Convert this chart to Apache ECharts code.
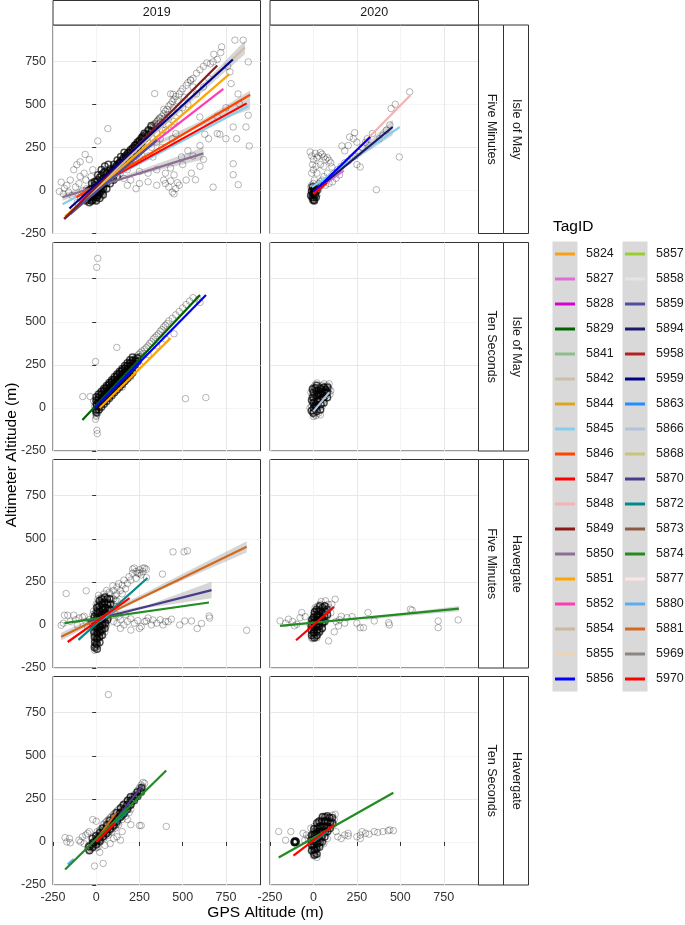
<!DOCTYPE html>
<html>
<head>
<meta charset="utf-8">
<title>Altimeter vs GPS altitude</title>
<script src="https://cdn.jsdelivr.net/npm/echarts@6/dist/echarts.min.js"></script>
<style>
    html, body { margin: 0; padding: 0; background: #fff; }
    #chart { width: 685px; height: 925px; }
</style>
</head>
<body>
<div id="chart"></div>
<script>
// 数据
var yearLabels = ["2019", "2020"];
var rateLabels = ["Five Minutes", "Ten Seconds", "Five Minutes", "Ten Seconds"];
var siteLabels = ["Isle of May", "Isle of May", "Havergate", "Havergate"];
var xTicks = [-250, 0, 250, 500, 750];
var yTicks = [-250, 0, 250, 500, 750];

var tagIds = ["5824", "5827", "5828", "5829", "5841", "5842", "5844", "5845", "5846", "5847", "5848", "5849",
    "5850", "5851", "5852", "5854", "5855", "5856",
    "5857", "5858", "5859", "5894", "5958", "5959", "5863", "5866", "5868", "5870", "5872", "5873",
    "5874", "5877", "5880", "5881", "5969", "5970"];
var tagColors = ["#F7A11A", "#DA70D6", "#D400D4", "#006400", "#8FBC8F", "#CDC0A8", "#DAA520", "#87CEEB", "#FF4500", "#FF0000", "#F2B3B3", "#8B1A1A",
    "#8E6E94", "#FFA500", "#FF3CB4", "#CDB79E", "#EFD3B5", "#0000FF",
    "#9ACD32", "#E5E5E5", "#4F4F9F", "#191970", "#B22222", "#00008B", "#1E90FF", "#B0C4DE", "#C8C478", "#483D8B", "#008B8B", "#8B5A45",
    "#228B22", "#FFE4E1", "#5CACEE", "#D2691E", "#8B8682", "#FF0000"];

// 散点: [GPS, 高度计]
var ptsIoM5_2019 = [
    [-30,-50],[-25,-40],[-20,-60],[-15,-30],[-10,-45],[-5,-20],[0,-35],[0,-10],[5,0],[5,-25],[10,10],[10,-15],[15,20],[15,-5],
    [20,5],[20,30],[25,15],[25,40],[30,25],[30,-10],[35,45],[35,10],[40,35],[40,60],[45,50],[45,20],[50,70],[50,40],[55,60],
    [55,85],[60,75],[60,50],[65,90],[70,80],[70,105],[75,95],[80,115],[80,85],[-35,-20],[-40,-5],[-20,10],[-10,20],[-5,5],
    [0,15],[-15,-10],[-45,-35],[-50,-60],[-25,-65],[-5,-55],[10,-40],[20,-20],[30,-35],[40,-10],[-30,5],[-55,10],[-60,-20],
    [-20,-30],[-10,-25],[0,-5],[5,10],[10,0],[15,10],[20,15],[25,25],[30,15],[35,30],[40,45],[45,35],[50,55],[55,50],[60,65],
    [65,70],[70,70],[75,80],[80,95],[85,90],[90,110],[95,105],[100,120],[105,115],[110,130],[115,120],[120,140],[125,135],
    [130,150],[135,150],[140,160],[145,165],[150,170],[155,165],[160,185],[165,180],[170,195],[175,190],[180,205],[185,200],
    [190,215],[195,210],[200,230],[205,225],[210,240],[215,245],[220,250],[225,255],[230,265],[235,255],[240,275],[245,270],
    [250,285],[255,280],[260,300],[265,300],[270,305],[275,310],[280,330],[285,325],[290,330],[300,345],[310,350],[320,370],
    [330,365],[340,385],[350,400],[360,410],[370,420],[-15,-45],[-8,-35],[3,-45],[12,-30],[-35,-45],[-40,-55],[-30,-60],
    [-20,-45],[25,-5],[35,-20],[45,0],
    [90,100],[95,130],[100,110],[105,140],[110,95],[115,135],[120,150],[125,120],[130,160],[135,140],[140,175],[145,150],
    [150,130],[155,180],[160,165],[165,200],[170,175],[175,210],[180,160],[185,220],[190,195],[195,230],[200,210],[205,180],
    [210,245],[215,230],[220,260],[225,240],[230,200],[235,270],[240,250],[245,285],[250,265],[255,230],[260,295],[265,280],
    [270,310],[275,250],[280,320],[285,300],[290,340],[295,310],[300,285],[305,350],[310,330],[315,365],[320,340],[325,300],
    [330,380],[335,360],[340,390],[345,370],[350,330],[355,405],[360,385],[365,420],[370,395],[380,430],[385,350],[390,445],
    [395,420],[400,460],[410,470],[415,440],[420,490],[430,500],[440,515],[445,480],[450,530],[460,545],[470,520],[480,560],
    [490,575],[500,590],[510,540],[520,610],[530,625],[545,640],[560,650],[300,200],[320,250],[350,280],[370,300],[400,350],
    [420,380],[250,190],[200,150],[180,120],[140,100],[260,210],[450,400],[480,450],[500,480],[530,500],[440,300],[460,330],
    [380,250],[410,420],[390,470],[430,560],[560,600],[580,680],[600,700],[620,720],[640,740],[660,735],[700,760],[760,720],
    [650,650],[620,600],[580,560],[680,790],[720,800],
    [725,833],[802,872],[850,872],[676,746],[879,746],[773,688],[547,640],[338,562],[444,558],[879,436],[599,426],[628,326],
    [715,326],[792,368],[866,368],[885,258],[812,300],[792,155],[792,91],[821,33],[676,19],[574,62],[67,359],[9,287],[328,194],
    [493,194],[400,40],[420,20],[440,-10],[460,10],[450,-20],[430,55],[480,30],[470,45],[390,60],[350,30],[300,50],[250,40],
    [200,60],[230,10],[180,30],[160,70],[350,120],[300,100],[250,110],[400,100],[430,130],[450,90],[500,150],[520,60],[550,100],
    [600,140],[620,180],[560,200],[530,230],[600,260],[650,300],[700,330],[750,300],[700,430],[750,480],[820,560],[830,500],
    [780,620],[-203,48],[-184,12],[-213,-6],[-112,149],[-93,166],[-64,209],[-40,179],[-130,120],[-93,81],[-150,60],[-170,30],
    [-190,-20],[-120,20],[-100,40],[-80,0],[-160,-10],[-140,-30],[-60,60],[-70,100],[-20,120],[-30,80],[-90,-50],[-110,-70],
    [-130,-100]
];
var ptsIoM5_2020 = [
    [0,-10],[0,-30],[0,10],[5,-40],[5,0],[-5,-20],[-5,5],[10,-20],[10,15],[-10,-40],[-10,0],[15,-5],[15,20],[20,10],[20,-30],
    [0,-50],[5,-55],[-5,-60],[25,25],[30,5],[30,40],[35,20],[40,50],[45,30],[50,60],[-15,20],[-10,30],[0,40],[5,60],
    [0,-20],[2,-5],[-3,-15],[3,-25],[-2,0],[7,-10],[-7,-30],[12,5],[-12,-20],[8,-35],[0,-45],[-8,-50],[4,5],[0,0],[6,-18],
    [-19,223],[-10,200],[0,180],[10,215],[20,190],[30,200],[40,220],[50,210],[60,195],[70,180],[80,190],[90,175],[100,160],
    [106,136],[-5,150],[15,140],[40,150],[0,120],[-10,100],[20,100],[60,140],
    [100,80],[120,100],[140,120],[160,140],[180,160],[200,170],[220,190],[240,200],[260,220],[150,90],[130,70],[110,50],
    [90,40],[70,30],[60,80],[80,100],[250,150],[269,136],[237,335],[208,310],[164,258],[230,300],[250,280],[200,260],[180,230],
    [280,250],[300,280],[310,300],[320,260],
    [554,572],[471,500],[447,475],[494,194],[362,4],[420,350],[440,380],[400,320],[380,300],[340,330]
];
var ptsIoM10_2019 = [
    [0,0],[0,20],[0,40],[0,-20],[5,60],[5,-30],[10,30],[10,80],[15,10],[15,50],[20,70],[20,-10],[25,40],[25,90],[30,20],
    [30,60],[35,100],[35,50],[40,80],[40,30],[45,110],[45,60],[50,90],[50,40],[55,120],[55,70],[60,100],[60,50],[65,130],
    [65,80],[70,110],[70,60],[75,140],[75,90],[80,120],[80,70],[85,150],[85,100],[90,130],[90,80],[95,160],[95,110],[100,140],
    [100,90],[105,170],[105,120],[110,150],[110,100],[115,180],[115,130],[120,160],[120,110],[125,190],[125,140],[130,170],
    [130,120],[135,200],[135,150],[140,180],[140,130],[145,210],[145,160],[150,190],[150,140],[155,220],[155,170],[160,200],
    [160,150],[165,230],[165,180],[170,210],[170,160],[175,240],[180,220],[180,190],[185,250],[190,230],[190,200],[195,260],
    [200,240],[200,210],[205,270],[210,250],[215,280],[220,260],[225,290],[230,270],[235,300],[240,285],[245,310],[250,295],
    [2,10],[8,45],[12,20],[18,55],[22,35],[28,75],[32,45],[38,85],[42,55],[48,95],[52,65],[58,105],[62,75],[68,115],[72,85],
    [78,125],[82,95],[88,135],[92,105],[98,145],[102,115],[108,155],[112,125],[118,165],[122,135],[128,175],[132,145],
    [138,185],[142,155],[148,195],[152,165],[158,205],[162,175],[168,215],[172,185],[178,225],[182,200],[188,240],[192,215],
    [198,250],[202,225],[208,260],[212,240],[218,270],[222,250],[228,280],[-2,-10],[3,-5],[0,10],[5,25],[10,50],[20,30],
    [30,40],[40,60],[60,80],[80,100],[100,120],[120,140],[140,160],[160,180],[180,205],[200,225],[220,240],
    [255,320],[260,300],[265,330],[270,315],[280,340],[290,350],[300,360],[310,375],[320,385],[330,400],[340,410],[350,420],
    [360,430],[370,445],[380,455],[390,470],[400,480],[410,490],[420,505],[440,520],[460,540],[480,560],[500,580],[520,600],
    [540,620],[560,640],[600,612],[590,630],[150,120],[200,180],[250,250],[300,310],[350,360],[400,400],[450,430],
    [9,868],[3,816],[119,351],[-4,269],[516,54],[634,60],[-78,66],[-35,66],[0,-42],[-4,-66],[4,-130],[6,-149],[-5,-20],
    [0,-50],[10,-30],[-10,10],[-5,30],[-15,40]
];
var ptsIoM10_2020 = [
    [0,0],[0,-20],[0,20],[5,40],[5,-40],[10,10],[10,60],[15,-10],[15,30],[20,80],[20,50],[25,0],[25,100],[30,70],[30,20],
    [35,120],[35,40],[40,90],[40,-10],[45,60],[45,110],[50,130],[50,30],[55,80],[55,100],[60,50],[60,140],[65,90],[65,120],
    [70,70],[70,110],[75,100],[80,130],[80,60],[85,90],[90,110],[95,80],[-5,30],[-5,-30],[-10,10],[-10,60],[-15,90],[-5,100],
    [0,120],[10,135],[20,145],[-20,0],[0,-50],[15,-45],[30,-30],[40,-40],[100,100],[90,140],[-15,-20],[5,80],
    [10,40],[20,20],[30,50],[40,70],[50,60],[60,90],[70,100],[30,100],[10,80],[0,50],[-5,70],[40,120],[60,120],[20,120],
    [50,10],[15,0],[5,10],[25,40],[45,85],[55,110],[65,60],[35,80],[75,120],[80,100]
];
var ptsHav5_2019 = [
    [0,0],[0,-30],[0,30],[0,-60],[0,60],[0,-100],[0,100],[5,-80],[5,80],[5,-20],[5,20],[10,-50],[10,50],[10,120],[10,-120],
    [15,0],[15,-40],[15,40],[15,140],[20,-70],[20,70],[20,10],[20,-10],[25,100],[25,-30],[25,30],[30,160],[30,60],[30,-60],
    [35,0],[35,90],[35,130],[40,40],[40,-20],[40,110],[45,180],[45,70],[50,20],[50,140],[50,-40],[55,100],[55,60],[60,200],
    [60,120],[60,0],[65,80],[65,160],[70,40],[70,130],[75,100],[80,180],[80,60],[-5,-140],[-5,-110],[-5,10],[-5,50],[-10,-90],
    [-10,20],[-10,-20],[-15,40],[-15,-50],[-20,0],[-20,60],[-10,-147],[-5,-122],[-15,80],[-20,-30],
    [0,-10],[0,10],[0,-45],[0,45],[0,-80],[0,80],[5,-60],[5,60],[5,0],[10,-30],[10,30],[10,-90],[10,90],[15,-20],[15,20],
    [15,-60],[15,60],[15,110],[20,-30],[20,30],[20,-50],[20,50],[20,90],[25,10],[25,-10],[25,70],[30,0],[30,40],[30,-30],
    [30,100],[35,20],[35,-40],[35,60],[40,10],[40,80],[45,40],[45,100],[50,0],[50,60],[55,30],[60,40],[-5,-30],[-5,-70],
    [-5,30],[-5,70],[-10,0],[-10,-60],[-10,40],[-10,-120],[0,-130],[5,-100],[0,120],[5,110],[10,150],[20,130],[40,150],
    [30,130],[50,100],[60,80],[70,110],[80,130],[90,120],[100,150],[110,140],[120,180],
    [90,150],[100,200],[110,170],[120,220],[100,120],[90,80],[130,240],[140,200],[150,230],[160,260],[170,210],[180,240],
    [190,280],[200,260],[210,300],[220,330],[240,300],[250,320],[260,290],[270,310],[280,330],[230,270],[150,180],[120,140],
    [210,324],[230,310],[250,300],[270,330],[290,323],
    [100,20],[120,10],[140,30],[160,0],[180,20],[200,35],[220,10],[240,25],[260,-10],[280,20],[290,23],[300,40],[319,0],
    [328,29],[350,10],[370,30],[386,0],[400,20],[416,19],[435,33],[483,0],[512,23],[551,23],[584,-21],[609,8],[653,52],
    [656,40],[870,-31],[140,-20],[200,-30],[250,-20],[110,60],[130,50],[170,60],
    [444,424],[508,424],[527,430],[383,295],[290,275],[-174,182],[-58,198],[13,172],[74,189],[96,227],
    [-203,-2],[-184,56],[-165,56],[-130,56],[-120,30],[-100,40],[-80,45],[-60,20],[-150,20],[-190,10],[-110,0],[-70,50],
    [-40,30],[-50,-10]
];
var ptsHav5_2020 = [
    [0,0],[0,-30],[0,30],[0,-60],[0,60],[5,-45],[5,15],[5,75],[10,-20],[10,40],[10,100],[15,-70],[15,0],[15,50],[20,-40],
    [20,20],[20,80],[25,-10],[25,110],[25,60],[30,-50],[30,30],[35,0],[35,90],[40,-30],[40,50],[40,120],[45,10],[45,70],
    [50,-20],[50,40],[55,90],[60,20],[60,60],[65,110],[70,40],[75,80],[80,50],[-5,-80],[-5,-20],[-5,40],[-10,-50],[-10,10],
    [-15,-10],[-15,20],[-19,0],[44,136],[125,149],[106,120],[87,-93],[90,100],[100,70],[85,120],[70,140],[-10,-75],
    [0,-15],[0,15],[0,-45],[0,45],[5,-30],[5,0],[5,30],[5,60],[10,-50],[10,0],[10,20],[10,70],[15,-30],[15,30],[15,80],
    [20,0],[20,50],[20,-60],[25,20],[25,-30],[25,80],[30,0],[30,60],[30,100],[35,30],[35,-30],[40,20],[40,80],[45,40],
    [50,60],[50,0],[55,30],[60,90],[-5,0],[-5,-50],[-5,20],[-10,-25],[-10,30],[0,-70],[10,-70],[20,-75],
    [-192,23],[-144,33],[-96,4],[-77,42],[-67,72],[-48,48],[-160,10],[-120,20],[-110,-5],[144,-6],[193,42],[222,48],[250,10],
    [269,-16],[288,-16],[314,72],[350,23],[433,13],[437,0],[558,91],[568,85],[718,23],[718,-16],[833,29],[150,30],[180,10],
    [120,-40],[130,20],[160,50]
];
var ptsHav10_2019 = [
    [-40,-30],[-30,-10],[-30,-40],[-20,0],[-20,-20],[-10,10],[-10,-10],[0,0],[0,20],[0,-20],[0,40],[5,60],[10,10],[10,30],
    [10,-10],[15,50],[20,20],[20,40],[20,70],[25,0],[30,30],[30,50],[30,80],[35,60],[40,40],[40,70],[40,100],[45,20],[50,60],
    [50,80],[50,110],[55,40],[60,70],[60,90],[60,120],[65,50],[70,80],[70,100],[70,130],[75,60],[80,90],[80,110],[80,140],
    [85,70],[90,100],[90,120],[90,150],[95,80],[100,110],[100,130],[100,160],[105,90],[110,120],[110,140],[110,170],[115,100],
    [120,130],[120,150],[120,180],[125,110],[130,140],[130,160],[130,190],[140,150],[140,170],[140,200],[150,160],[150,180],
    [150,210],[160,170],[160,190],[160,220],[170,180],[170,200],[170,230],[180,190],[180,215],[180,240],[190,205],[190,230],
    [190,250],[200,220],[200,245],[200,265],[210,235],[210,260],[220,250],[220,275],[230,260],[230,285],[240,275],[240,300],
    [250,290],[250,315],[260,300],[260,330],[270,320],[270,345],[280,340],[150,130],[170,150],[190,170],[130,100],[110,80],
    [90,60],[70,40],[200,190],
    [-35,-25],[-25,-15],[-15,-5],[-5,5],[5,15],[5,-5],[15,25],[15,5],[25,35],[25,15],[35,45],[35,25],[45,55],[45,35],[55,65],
    [55,50],[65,75],[65,60],[75,85],[75,70],[85,95],[85,80],[95,110],[95,90],[105,120],[105,100],[115,130],[115,110],
    [125,140],[125,125],[135,155],[135,135],[145,165],[145,145],[155,175],[155,155],[165,185],[165,170],[175,200],[175,185],
    [185,210],[185,195],[195,225],[195,210],[205,235],[215,245],[225,260],[235,270],[245,285],[255,295],[265,310],[-45,-45],
    [-50,-35],[-35,-50],[-20,-35],[0,-35],[10,-30],
    [70,855],[250,95],[260,95],[405,90],[-180,25],[-170,0],[-155,20],[-150,-5],[-10,-140],[40,-125],[-80,30],[-60,40],
    [-90,0],[-70,-10],[-100,10],[-50,50],[-40,60],[-20,130],[0,120],[20,-60],[50,-20],[80,-10],[100,20],[120,30],[140,10],
    [150,60],[200,100],[180,130]
];
var ptsHav10_2020 = [
    [0,0],[0,-30],[0,30],[0,-60],[0,60],[5,-45],[5,90],[10,-10],[10,20],[10,50],[15,-70],[15,70],[20,0],[20,40],[20,100],
    [25,-30],[25,60],[30,10],[30,80],[30,120],[35,-20],[35,40],[40,0],[40,90],[45,60],[45,130],[50,20],[50,100],[55,40],
    [55,150],[60,70],[65,110],[70,50],[75,130],[80,80],[85,60],[90,110],[95,140],[100,90],[105,120],[110,155],[115,100],
    [120,130],[125,160],[-5,-20],[-5,40],[-10,-50],[-10,10],[-15,80],[-15,-10],[-20,30],[0,-80],[20,-90],[10,-80],[60,-10],
    [80,20],
    [0,-15],[0,15],[0,-45],[0,45],[5,-30],[5,0],[5,30],[5,60],[10,-50],[10,0],[10,35],[10,80],[15,-30],[15,20],[15,50],
    [20,-20],[20,20],[20,60],[25,0],[25,40],[25,90],[30,-10],[30,40],[30,60],[35,20],[35,80],[40,30],[40,60],[40,110],
    [45,40],[50,60],[50,80],[55,70],[60,90],[60,120],[65,80],[70,90],[70,120],[80,110],[90,90],[100,120],[-5,0],[-5,-50],
    [-5,20],[-10,-25],[-10,30],[0,-65],[10,-65],
    [140,30],[180,40],[200,35],[250,30],[270,20],[280,60],[300,50],[350,60],[370,55],[400,60],[430,65],[440,70],
    [460,65],[270,40],[320,45],[200,50],[160,20],[130,60],[-200,60],[-130,60],[-160,10],[-110,5],[-105,0],[-100,5],[-110,-5],
    [-40,40],[-60,50],[-30,20],[-50,10]
];

// 密集区的点
var coreIoM5_2019 = [
    [-40,-70],[-42,-38],[-38,-12],[-20,-55],[-22,-25],[-18,5],[0,-40],[2,-12],[-2,20],[0,50],[20,-15],[18,15],[22,45],[20,75],
    [40,10],[38,40],[42,70],[40,100],[60,40],[58,70],[62,100],[80,65],[78,95],[82,125],[100,90],[98,120],[102,150],
    [120,115],[118,145],[122,175],[140,135],[138,165],[142,195],[160,160],[158,190],[162,220],[180,185],[182,215],
    [200,205],[198,235],[220,230],[222,260],[240,250],[238,280],[260,275],[262,305],[280,300],[278,330],[300,325],
    [302,350],[320,345],[318,375],[10,0],[30,30],[50,55],[70,80],[90,110],[110,130],[130,155],[150,175],[170,200],
    [190,220],[210,245],[230,265],[250,290],[270,315],[-10,-20],[-30,-35],[10,-30],[30,0],[-50,-50],[-60,-30],[-30,-60],
    [10,60],[30,90],[50,110],[-10,30],[-50,-20],[-30,10],[-10,50],[10,90],[30,120],[50,140],[70,150],[60,10],[80,40],
    [100,60],[120,80],[0,-60],[20,-45],[40,-25],[-60,-60],[-45,0],[-25,40]
];
var coreIoM5_2020 = [
    [-5,-40],[0,-20],[5,0],[0,-55],[10,-25],[-10,-5],[10,10],[-5,20],[15,-40],[-15,-30],[5,-60],[20,0]
];
var coreIoM10_2019 = [
    [0,-10],[2,20],[0,45],[15,10],[13,35],[15,60],[30,25],[32,50],[30,80],[45,40],[47,70],[45,100],[60,60],[58,90],[60,115],
    [75,75],[77,105],[75,135],[90,95],[88,120],[90,150],[105,110],[107,140],[105,165],[120,125],[118,155],[120,185],
    [135,145],[137,170],[135,200],[150,160],[148,190],[150,215],[165,180],[167,205],[165,230],[180,195],[178,220],
    [180,245],[195,215],[197,240],[195,260],[210,235],[208,255],[210,275],[225,250],[227,275],[240,270],[238,290],
    [0,-27],[0,63],[15,-10],[15,80],[30,6],[30,96],[45,23],[45,113],[60,39],[60,129],[75,56],[75,146],[90,72],[90,162],
    [105,89],[105,179],[120,105],[120,195],[135,122],[135,212],[150,138],[150,228],[165,155],[165,245],[180,171],
    [180,261],[195,188],[195,278],[210,204],[210,294]
];
var coreIoM10_2020 = [
    [0,-30],[2,0],[0,30],[-2,60],[0,90],[20,-20],[18,10],[22,40],[20,70],[18,100],[20,130],[40,-10],[42,20],[38,50],
    [40,80],[42,110],[60,30],[58,60],[62,90],[60,120],[80,60],[78,90],[82,120],[-10,-15],[-10,45],[10,15],[30,85],
    [50,95],[70,105],[10,115],[-5,110]
];
var coreHav5_2019 = [
    [-10,-130],[-8,-100],[-10,-70],[-12,-40],[-10,-10],[-8,20],[-10,50],[5,-140],[3,-110],[5,-80],[7,-50],[5,-20],[3,10],
    [5,40],[7,70],[5,100],[20,-100],[18,-70],[22,-40],[20,-10],[18,20],[22,50],[20,80],[18,110],[20,140],[35,-60],
    [33,-30],[37,0],[35,30],[33,60],[37,90],[35,120],[33,150],[50,-20],[52,10],[48,40],[50,70],[52,100],[48,130],
    [50,160],[65,30],[63,60],[67,90],[65,120],[63,150],[80,90],[82,120],[78,150]
];
var coreHav5_2020 = [
    [-10,-60],[-12,-30],[-10,0],[-8,30],[5,-75],[3,-45],[7,-15],[5,15],[3,45],[7,75],[20,-60],[22,-30],[18,0],[20,30],
    [22,60],[18,90],[35,-40],[33,-10],[37,20],[35,50],[33,80],[37,110],[50,-20],[52,10],[48,40],[50,70],[52,100],
    [65,20],[63,50],[67,80],[65,110],[80,60],[78,90]
];
var coreHav10_2019 = [
    [-40,-50],[-42,-25],[-20,-30],[-18,-5],[-22,20],[0,-15],[2,10],[-2,35],[20,5],[18,30],[22,55],[40,30],[42,55],
    [38,80],[60,50],[58,75],[62,100],[80,75],[82,100],[78,125],[100,95],[98,120],[102,145],[120,120],[122,145],
    [118,170],[140,145],[138,170],[142,195],[160,165],[162,190],[158,215],[180,190],[178,215],[182,240],[200,215],
    [202,240],[198,260],[220,240],[222,265],[240,265],[238,290],[260,290],[262,315]
];
var coreHav10_2020 = [
    [-10,-50],[-8,-20],[-12,10],[-10,40],[5,-75],[7,-45],[3,-15],[5,15],[7,45],[3,75],[20,-70],[18,-40],[22,-10],[20,20],
    [18,50],[22,80],[20,110],[35,-30],[37,0],[33,30],[35,60],[37,90],[33,120],[50,0],[48,30],[52,60],[50,90],[48,120],
    [52,145],[65,30],[67,60],[63,90],[65,120],[67,145],[80,60],[78,90],[82,120],[80,150],[95,80],[97,110],[93,140],
    [110,110],[108,140],[-110,0],[-105,5],[-100,0],[-108,-4]
];

// 拟合线: [TagID, x起, y起, x止, y止]
var fitsIoM5_2019 = [
    ["5850", -195, -40, 620, 215],
    ["5845", -195, -80, 880, 490],
    ["5847", -100, -30, 870, 505],
    ["5846", -115, -40, 890, 555],
    ["5852", -100, -60, 735, 590],
    ["5844", -150, -140, 290, 260],
    ["5851", -180, -150, 770, 675],
    ["5842", -160, -140, 860, 830],
    ["5859", -185, -165, 350, 290],
    ["5849", -185, -165, 700, 725],
    ["5959", -155, -105, 790, 760]
];
var fitsIoM5_2020 = [
    ["5848", 0, -19, 558, 552],
    ["5827", 30, 10, 175, 115],
    ["5845", -9, 19, 497, 368],
    ["5894", 0, -10, 456, 368],
    ["5856", 0, -10, 327, 310],
    ["5847", 0, -20, 77, 43]
];
var fitsIoM10_2019 = [
    ["5847", 30, 40, 90, 100],
    ["5851", 20, 0, 430, 405],
    ["5829", -80, -70, 600, 655],
    ["5856", -10, -2, 635, 655]
];
var fitsIoM10_2020 = [
    ["5866", 0, -20, 90, 90]
];
var fitsHav5_2019 = [
    ["5881", -203, -68, 870, 453],
    ["5870", -50, 20, 667, 202],
    ["5874", -184, 10, 652, 130],
    ["5880", 20, 20, 120, 100],
    ["5872", -103, -87, 296, 272],
    ["5970", -165, -99, 193, 155]
];
var fitsHav5_2020 = [
    ["5874", -192, -6, 837, 95],
    ["5872", 60, 60, 100, 95],
    ["5970", -100, -89, 119, 105]
];
var fitsHav10_2019 = [
    ["5880", -165, -130, -130, -100],
    ["5870", 100, 110, 265, 325],
    ["5881", 0, 10, 115, 170],
    ["5872", 100, 100, 185, 180],
    ["5874", -180, -160, 405, 415],
    ["5970", 0, 0, 110, 110]
];
var fitsHav10_2020 = [
    ["5872", 0, 0, 80, 60],
    ["5874", -200, -90, 460, 285],
    ["5970", -115, -80, 120, 100]
];

// 置信带: [x, 下限, 上限]
var bandsIoM5_2019 = [
    [[-195, -60, -20], [200, 80, 100], [620, 180, 250]],
    [[300, 240, 260], [600, 370, 400], [890, 470, 580]],
    [[300, 290, 310], [600, 560, 600], [860, 790, 870]]
];
var bandsIoM5_2020 = [
    [[0, -30, 10], [200, 150, 170], [456, 320, 410]]
];
var bandsIoM10_2019 = [];
var bandsIoM10_2020 = [];
var bandsHav5_2019 = [
    [[-203, -90, -45], [250, 150, 170], [870, 420, 485]],
    [[100, 60, 75], [300, 100, 115], [667, 155, 250]]
];
var bandsHav5_2020 = [
    [[300, 30, 40], [560, 55, 75], [837, 80, 110]]
];
var bandsHav10_2019 = [];
var bandsHav10_2020 = [];

(function () {
    var myChart = echarts.init(document.getElementById("chart"));

    var panelPts = [ptsIoM5_2019, ptsIoM5_2020, ptsIoM10_2019, ptsIoM10_2020, ptsHav5_2019, ptsHav5_2020, ptsHav10_2019, ptsHav10_2020];
    var panelCore = [coreIoM5_2019, coreIoM5_2020, coreIoM10_2019, coreIoM10_2020, coreHav5_2019, coreHav5_2020, coreHav10_2019, coreHav10_2020];
    var panelFits = [fitsIoM5_2019, fitsIoM5_2020, fitsIoM10_2019, fitsIoM10_2020, fitsHav5_2019, fitsHav5_2020, fitsHav10_2019, fitsHav10_2020];
    var panelBands = [bandsIoM5_2019, bandsIoM5_2020, bandsIoM10_2019, bandsIoM10_2020, bandsHav5_2019, bandsHav5_2020, bandsHav10_2019, bandsHav10_2020];

    var colLeft = [53, 270];
    var colWidth = [207.5, 208.5];
    var rowTop = [25, 242.5, 459.5, 676.5];
    var rowHeight = 208.5;
    var fontFamily = "'Liberation Sans', Arial, sans-serif";
    var splitColors = ["#E8E8E8", "#F4F4F4"];

    var grids = [], xAxes = [], yAxes = [], series = [], graphics = [];

    function colorOf(tag) {
        return tagColors[tagIds.indexOf(tag)];
    }

    for (var i = 0; i < 8; i++) {
        var r = Math.floor(i / 2), c = i % 2;
        var isBottom = r === 3, isLeft = c === 0;
        grids.push({
            left: colLeft[c], top: rowTop[r], width: colWidth[c], height: rowHeight,
            show: true, backgroundColor: "#fff", borderColor: "#333", borderWidth: 1
        });
        xAxes.push({
            gridIndex: i, type: "value", min: -250, max: 950, interval: 125,
            axisLine: { show: false },
            axisTick: { show: isBottom, customValues: xTicks, length: 4, lineStyle: { color: "#333" } },
            axisLabel: { show: isBottom, customValues: xTicks, color: "#333", fontSize: 12.5, fontFamily: fontFamily, margin: 6 },
            splitLine: { show: true, lineStyle: { color: splitColors, width: 1 } }
        });
        yAxes.push({
            gridIndex: i, type: "value", min: -250, max: 960, interval: 125,
            axisLine: { show: false },
            axisTick: { show: isLeft, customValues: yTicks, length: 4, lineStyle: { color: "#333" } },
            axisLabel: { show: isLeft, customValues: yTicks, color: "#333", fontSize: 12.5, fontFamily: fontFamily, margin: 7 },
            splitLine: { show: true, lineStyle: { color: splitColors, width: 1 } }
        });
    }

    // 散点
    panelPts.forEach(function (pts, i) {
        series.push({
            type: "scatter", xAxisIndex: i, yAxisIndex: i, data: pts,
            symbol: "circle", symbolSize: 6.5, silent: true,
            itemStyle: { color: "rgba(0,0,0,0)", borderColor: "rgba(0,0,0,0.45)", borderWidth: 0.8 }
        });
    });
    // 密集区散点，颜色更深
    panelCore.forEach(function (pts, i) {
        series.push({
            type: "scatter", xAxisIndex: i, yAxisIndex: i, data: pts,
            symbol: "circle", symbolSize: 6.5, silent: true,
            itemStyle: { color: "rgba(0,0,0,0)", borderColor: "rgba(0,0,0,0.85)", borderWidth: 1.5 }
        });
    });

    // 置信带
    panelBands.forEach(function (bands, i) {
        bands.forEach(function (band) {
            series.push({
                type: "custom", xAxisIndex: i, yAxisIndex: i, silent: true, clip: true,
                data: [[band[0][0], band[0][1]]],
                renderItem: function (params, api) {
                    var upper = band.map(function (p) { return api.coord([p[0], p[2]]); });
                    var lower = band.slice().reverse().map(function (p) { return api.coord([p[0], p[1]]); });
                    return { type: "polygon", shape: { points: upper.concat(lower) }, style: { fill: "rgba(153,153,153,0.4)" } };
                }
            });
        });
    });

    // 拟合线
    var usedTags = {};
    panelFits.forEach(function (fits, i) {
        fits.forEach(function (f) {
            usedTags[f[0]] = true;
            series.push({
                type: "line", name: f[0], xAxisIndex: i, yAxisIndex: i,
                data: [[f[1], f[2]], [f[3], f[4]]],
                showSymbol: false, symbol: "none", silent: true, z: 3,
                itemStyle: { color: colorOf(f[0]) },
                lineStyle: { color: colorOf(f[0]), width: 2.2 }
            });
        });
    });
    tagIds.forEach(function (tag) {
        if (!usedTags[tag]) {
            series.push({
                type: "line", name: tag, xAxisIndex: 0, yAxisIndex: 0, data: [],
                showSymbol: false, symbol: "none",
                itemStyle: { color: colorOf(tag) }, lineStyle: { color: colorOf(tag), width: 2.2 }
            });
        }
    });

    // 分面条
    for (var c = 0; c < 2; c++) {
        graphics.push({ type: "rect", z: 10, shape: { x: colLeft[c], y: 0.5, width: colWidth[c], height: 24.5 }, style: { fill: "#fff", stroke: "#333", lineWidth: 1 } });
        graphics.push({ type: "text", z: 11, x: colLeft[c] + colWidth[c] / 2, y: 13, style: { text: yearLabels[c], fill: "#1a1a1a", font: "12.5px " + fontFamily, textAlign: "center", textVerticalAlign: "middle" } });
    }
    for (var r = 0; r < 4; r++) {
        var cy = rowTop[r] + rowHeight / 2;
        graphics.push({ type: "rect", z: 10, shape: { x: 478.5, y: rowTop[r], width: 25, height: rowHeight }, style: { fill: "#fff", stroke: "#333", lineWidth: 1 } });
        graphics.push({ type: "rect", z: 10, shape: { x: 503.5, y: rowTop[r], width: 25, height: rowHeight }, style: { fill: "#fff", stroke: "#333", lineWidth: 1 } });
        graphics.push({ type: "text", z: 11, x: 491, y: cy, rotation: -Math.PI / 2, style: { text: rateLabels[r], fill: "#1a1a1a", font: "12.5px " + fontFamily, textAlign: "center", textVerticalAlign: "middle" } });
        graphics.push({ type: "text", z: 11, x: 516, y: cy, rotation: -Math.PI / 2, style: { text: siteLabels[r], fill: "#1a1a1a", font: "12.5px " + fontFamily, textAlign: "center", textVerticalAlign: "middle" } });
    }

    // 轴标题
    graphics.push({ type: "text", z: 11, x: 265.5, y: 913, style: { text: "GPS Altitude (m)", fill: "#000", font: "15.5px " + fontFamily, textAlign: "center", textVerticalAlign: "middle" } });
    graphics.push({ type: "text", z: 11, x: 12, y: 455, rotation: Math.PI / 2, style: { text: "Altimeter Altitude (m)", fill: "#000", font: "15.5px " + fontFamily, textAlign: "center", textVerticalAlign: "middle" } });

    // 图例背景和标题
    graphics.push({ type: "text", z: 11, x: 553, y: 227, style: { text: "TagID", fill: "#000", font: "15.5px " + fontFamily, textAlign: "left", textVerticalAlign: "middle" } });
    graphics.push({ type: "rect", z: 0, shape: { x: 552.5, y: 241.5, width: 25, height: 450 }, style: { fill: "#D9D9D9" } });
    graphics.push({ type: "rect", z: 0, shape: { x: 622.5, y: 241.5, width: 25, height: 450 }, style: { fill: "#D9D9D9" } });

    function legendAt(left, names) {
        return {
            data: names, orient: "vertical", left: left, top: 241.5, padding: 0,
            itemWidth: 20, itemHeight: 3, itemGap: 0, icon: "rect", selectedMode: false,
            textStyle: { fontSize: 12.5, fontFamily: fontFamily, color: "#1a1a1a", lineHeight: 25, padding: [0, 0, 0, 6] }
        };
    }

    var option = {
        animation: false,
        backgroundColor: "#fff",
        grid: grids,
        xAxis: xAxes,
        yAxis: yAxes,
        legend: [legendAt(555, tagIds.slice(0, 18)), legendAt(625, tagIds.slice(18))],
        graphic: { elements: graphics },
        series: series
    };
    myChart.setOption(option);
    window.addEventListener("resize", function () {
        myChart.resize();
    });
})();
</script>
</body>
</html>
